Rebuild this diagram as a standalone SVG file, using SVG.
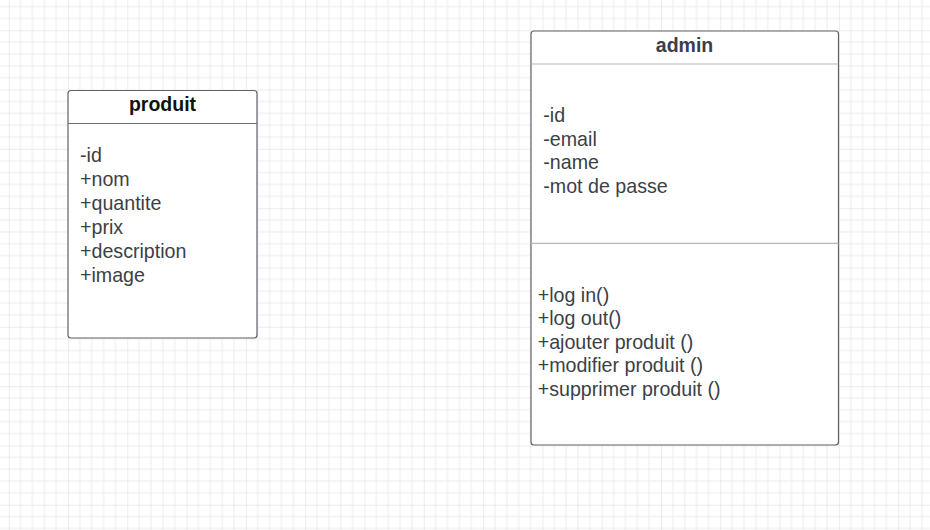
<svg xmlns="http://www.w3.org/2000/svg" width="930" height="530" viewBox="0 0 930 530">
<defs>
<pattern id="grid" patternUnits="userSpaceOnUse" x="8.7" y="30.3" width="59.3" height="59.3">
<g stroke="#ececec" stroke-width="1">
<path d="M11.86 0V59.3M23.72 0V59.3M35.58 0V59.3M47.44 0V59.3M0 11.86H59.3M0 23.72H59.3M0 35.58H59.3M0 47.44H59.3"/>
</g>
<path d="M0 0V59.3M0 0H59.3" stroke="#dadada" stroke-width="1"/>
</pattern>
<style>
.box{fill:#ffffff;stroke:#5f6068;stroke-width:1.2}
.div{stroke:#b8b8bc;stroke-width:1.2}
.title{font-family:"Liberation Sans",Arial,sans-serif;font-size:19.5px;font-weight:bold;text-anchor:middle}
.txt{font-family:"Liberation Sans",Arial,sans-serif;font-size:19.65px;fill:#3b3f47}
</style>
</defs>
<rect x="0" y="0" width="930" height="530" fill="#ffffff"/>
<rect x="0" y="0" width="930" height="530" fill="url(#grid)"/>
<g id="produit">
<rect class="box" x="68" y="90.5" width="189" height="247.5" rx="3"/>
<line class="div" x1="68" y1="123.5" x2="257" y2="123.5" style="stroke:#6e6e74"/>
<text class="title" x="162.5" y="111" fill="#111111">produit</text>
<text class="txt" x="80" y="162">-id</text>
<text class="txt" x="80" y="186">+nom</text>
<text class="txt" x="80" y="210">+quantite</text>
<text class="txt" x="80" y="234">+prix</text>
<text class="txt" x="80" y="258">+description</text>
<text class="txt" x="80" y="281.5">+image</text>
</g>
<g id="admin">
<rect class="box" x="531" y="31" width="307.5" height="414" rx="3"/>
<line class="div" x1="531" y1="64" x2="838.5" y2="64"/>
<line class="div" x1="531" y1="243.3" x2="838.5" y2="243.3"/>
<text class="title" x="684.5" y="52" fill="#3a3e46">admin</text>
<text class="txt" x="543.3" y="121.7">-id</text>
<text class="txt" x="543.3" y="145.5">-email</text>
<text class="txt" x="543.3" y="169.2">-name</text>
<text class="txt" x="543.3" y="192.8">-mot de passe</text>
<text class="txt" x="537.7" y="301.7">+log in()</text>
<text class="txt" x="537.7" y="325.2">+log out()</text>
<text class="txt" x="537.7" y="348.8">+ajouter produit ()</text>
<text class="txt" x="537.7" y="372.3">+modifier produit ()</text>
<text class="txt" x="537.7" y="395.8">+supprimer produit ()</text>
</g>
<g id="connectors"></g>
</svg>
